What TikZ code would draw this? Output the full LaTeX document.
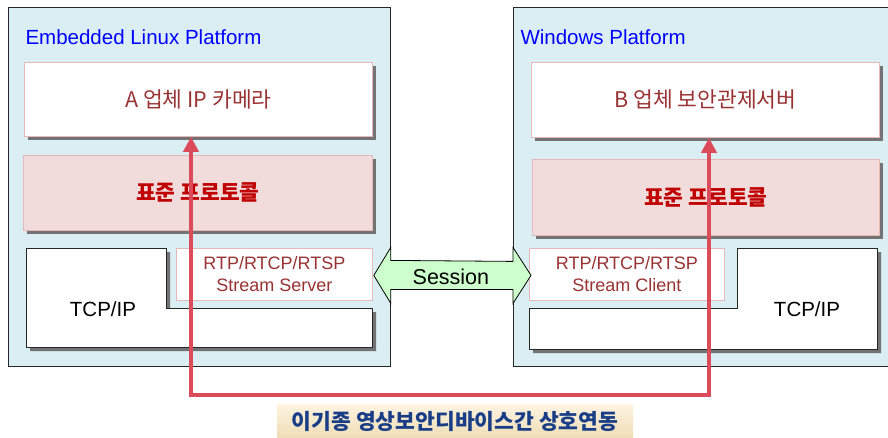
\documentclass[tikz,border=0pt]{standalone}
\usepackage{fontspec}
\setmainfont{Liberation Sans}
\newfontfamily\krfont{Noto Sans CJK KR}
\definecolor{platblue}{RGB}{219, 238, 244}
\definecolor{edgepink}{RGB}{230, 185, 184}
\definecolor{stdpink}{RGB}{242, 220, 219}
\definecolor{apptext}{RGB}{153, 51, 51}
\definecolor{stdred}{RGB}{192, 0, 0}
\definecolor{sessgreen}{RGB}{204, 255, 204}
\definecolor{linkred}{RGB}{220, 75, 90}
\definecolor{capblue}{RGB}{25, 62, 135}
\usetikzlibrary{shadows, arrows.meta, calc}

\begin{document}
\begin{tikzpicture}[
  x=1pt, y=-1pt,
  plat/.style={draw=black!85, line width=0.8pt, fill=platblue, anchor=north west},
  ptitle/.style={text=blue, anchor=west, font=\fontsize{20.5}{24}\selectfont},
  sbox/.style={anchor=north west, draw=edgepink, line width=0.8pt,
    drop shadow={shadow xshift=4pt, shadow yshift=-4pt, fill=black!55, opacity=1}},
  appbox/.style={sbox, fill=white, text=apptext, font=\krfont\fontsize{21.5}{24}\selectfont},
  stdbox/.style={sbox, fill=stdpink, text=stdred, font=\krfont\bfseries\fontsize{21.5}{24}\selectfont},
  rtpbox/.style={anchor=north west, draw=edgepink, line width=0.8pt, fill=white, text=apptext,
    align=center, font=\fontsize{18}{22}\selectfont},
  tcpshape/.style={draw=black!85, line width=0.8pt, fill=white,
    drop shadow={shadow xshift=4pt, shadow yshift=-4pt, fill=black!55, opacity=1}},
  tcplabel/.style={font=\fontsize{20.5}{24}\selectfont},
  sessarrow/.style={draw=black, line width=0.8pt, fill=sessgreen},
  linkline/.style={draw=linkred, line width=4pt, {Triangle[length=15pt, width=15pt]}-{Triangle[length=15pt, width=15pt]}},
  capbox/.style={top color={rgb,255:red,253;green,243;blue,224}, bottom color={rgb,255:red,238;green,221;blue,182},
    text=capblue, minimum width=356, minimum height=33, font=\krfont\bfseries\fontsize{21.5}{24}\selectfont}
]
  \useasboundingbox (0,0) rectangle (888,437);

  \node[plat, minimum width=382, minimum height=359] (platL) at (8,7) {};
  \node[plat, minimum width=375, minimum height=359] (platR) at (513,7) {};
  \node[ptitle] (titleL) at (22,37) {Embedded Linux Platform};
  \node[ptitle] (titleR) at (517,37) {Windows Platform};

  \node[appbox, minimum width=348, minimum height=74] (appA) at (24,62) {A 업체 IP 카메라};
  \node[appbox, minimum width=348, minimum height=75] (appB) at (531,62) {B 업체 보안관제서버};
  \node[stdbox, minimum width=349, minimum height=75] (stdL) at (23,155) {표준 프로토콜};
  \node[stdbox, minimum width=347, minimum height=76] (stdR) at (532,159) {표준 프로토콜};

  \draw[tcpshape] (26,248) -- (166,248) -- (166,308) -- (372,308) -- (372,347) -- (26,347) -- cycle;
  \draw[tcpshape] (529,308) -- (737,308) -- (737,248) -- (877,248) -- (877,349) -- (529,349) -- cycle;
  \node[tcplabel] (tcpL) at (103,309) {TCP/IP};
  \node[tcplabel] (tcpR) at (807,309) {TCP/IP};

  \node[rtpbox, minimum width=196, minimum height=52] (rtpL) at (176,248) {RTP/RTCP/RTSP\\Stream Server};
  \node[rtpbox, minimum width=195, minimum height=52] (rtpR) at (529,248) {RTP/RTCP/RTSP\\Stream Client};

  \draw[sessarrow] ($(rtpL.east)+(1,1)$) -- ++(17,-28) -- ++(0,13) -- ($(rtpR.west)+(-16,-13)$)
    -- ++(0,-14) -- ($(rtpR.west)+(2,1)$) -- ++(-18,28) -- ++(0,-14) -- ($(rtpL.east)+(18,15)$)
    -- ++(0,14) -- cycle;
  \node[tcplabel, font=\fontsize{21.5}{24}\selectfont] (session) at ($(rtpL.east)!0.5!(rtpR.west)+(0,2)$) {Session};

  \coordinate (routeL) at (191,395);
  \coordinate (routeR) at (709,395);
  \draw[linkline] (appA.south -| routeL) -- (routeL) -- (routeR) -- (appB.south -| routeR);

  \node[capbox] (caption) at (455,421) {이기종 영상보안디바이스간 상호연동};
\end{tikzpicture}
\end{document}
